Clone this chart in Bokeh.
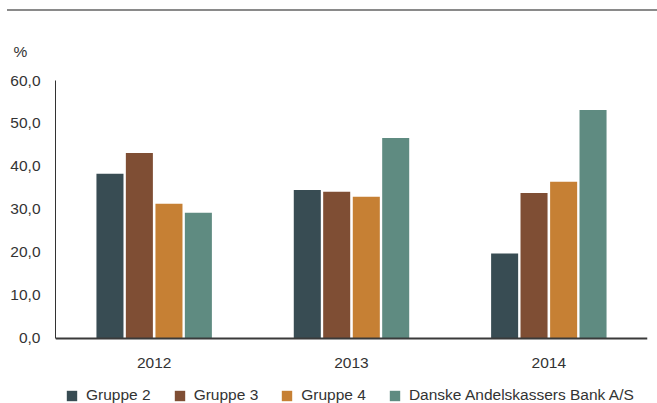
from bokeh.plotting import figure
from bokeh.models import (ColumnDataSource, FactorRange, Range1d, Legend, LegendItem,
                          CustomJSTickFormatter, Title, FixedTicker, InlineStyleSheet)
from bokeh.transform import dodge
from bokeh.embed import file_html
from bokeh.resources import INLINE

years = ["2012", "2013", "2014"]
gruppe2 = [38.3, 34.5, 19.7]
gruppe3 = [43.1, 34.1, 33.8]
gruppe4 = [31.3, 32.9, 36.4]
danske = [29.2, 46.6, 53.1]
series_names = ["Gruppe 2", "Gruppe 3", "Gruppe 4", "Danske Andelskassers Bank A/S"]
colors = ["#384c53", "#7f4e34", "#c68034", "#5f8b81"]
y_ticks = [0, 10, 20, 30, 40, 50, 60]

FONT = "Liberation Sans"
FS = "15.5px"
TXT = "#333333"

source = ColumnDataSource(dict(years=years, g2=gruppe2, g3=gruppe3, g4=gruppe4, d=danske))

# thin grey rule across the top of the page (pure decoration)
rule_css = InlineStyleSheet(css=""":host::before { content: ""; position: absolute; left: 7px;
  top: 9px; width: 650px; height: 2px; background: #8a8a8a; z-index: 5; }""")

# the frame runs to the bottom of the page so the legend can sit inside it;
# the value axis is bounded to 0..60 and the category axis is pinned at 0
p = figure(x_range=FactorRange(*years, range_padding=0), y_range=Range1d(-15.26, 60),
           width=657, height=403, output_backend="svg", toolbar_location=None,
           min_border_left=55, min_border_right=10, min_border_top=80, min_border_bottom=0,
           stylesheets=[rule_css])
p.outline_line_color = None
p.xgrid.grid_line_color = None
p.ygrid.grid_line_color = None

offsets = [-0.224, -0.075, 0.075, 0.224]
fields = ["g2", "g3", "g4", "d"]
renderers = []
for f, off, c in zip(fields, offsets, colors):
    r = p.vbar(x=dodge("years", off, range=p.x_range), top=f, bottom=0, width=0.137,
               source=source, fill_color=c, line_color=None)
    renderers.append(r)

# axes
p.yaxis.ticker = FixedTicker(ticks=y_ticks)
p.yaxis.bounds = (0, 60)
p.yaxis.formatter = CustomJSTickFormatter(code="return tick.toFixed(1).replace('.', ',');")
p.yaxis.major_tick_line_color = None
p.yaxis.minor_tick_line_color = None
p.yaxis.axis_line_color = "#333333"
p.yaxis.axis_line_width = 1
p.yaxis.major_label_standoff = 9
p.yaxis.major_label_text_font = FONT
p.yaxis.major_label_text_font_size = FS
p.yaxis.major_label_text_color = TXT

p.xaxis.fixed_location = 0
p.xaxis.major_tick_line_color = None
p.xaxis.minor_tick_line_color = None
p.xaxis.axis_line_color = "#3a3a3a"
p.xaxis.axis_line_width = 2
p.xaxis.major_label_standoff = 14
p.xaxis.major_label_text_font = FONT
p.xaxis.major_label_text_font_size = FS
p.xaxis.major_label_text_color = TXT

legend = Legend(items=[LegendItem(label=n, renderers=[r]) for n, r in zip(series_names, renderers)],
                orientation="horizontal", location=(10, -1), border_line_color=None,
                background_fill_alpha=0, padding=0, margin=0, spacing=22,
                glyph_width=13, glyph_height=13, label_standoff=8,
                label_text_font=FONT, label_text_font_size=FS, label_text_color=TXT,
                label_height=13)
p.add_layout(legend, "center")

pct = Title(text="%", align="left", offset=-42, standoff=41, text_font=FONT,
            text_font_size=FS, text_color=TXT, text_font_style="normal")
p.add_layout(pct, "above")

open("out.html", "w").write(file_html(p, INLINE))
